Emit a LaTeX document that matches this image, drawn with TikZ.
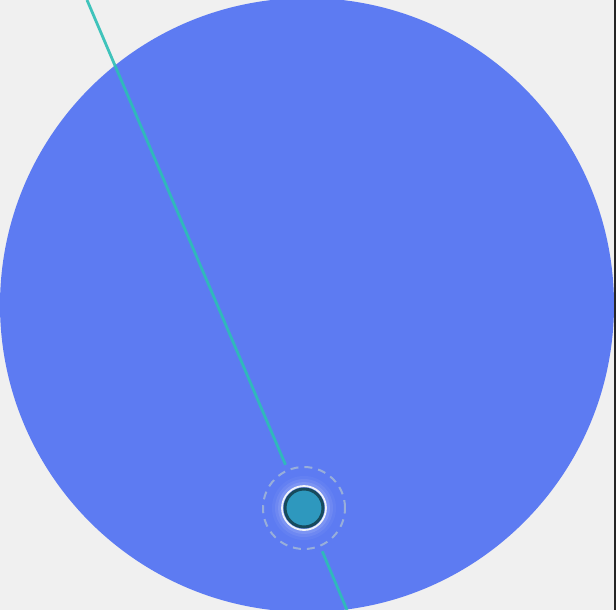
\documentclass[tikz,border=0pt]{standalone}
\usetikzlibrary{calc}
\definecolor{bg}{HTML}{F0F0F0}
\definecolor{disc}{HTML}{5D7BF2}
\definecolor{teal}{HTML}{2CBFB6}
\definecolor{nodefill}{HTML}{2E98BE}
\definecolor{nodeedge}{HTML}{174A5C}
\definecolor{ring}{HTML}{98AEDA}
\tikzset{
  edgeline/.style={draw=teal, line width=2.8pt, draw opacity=0.9},
  pin/.style={circle, fill=nodefill, draw=nodeedge, line width=3pt, minimum size=38pt, inner sep=0pt},
  halo/.style={circle, draw=white!85!ring, line width=1.8pt, minimum size=44pt, inner sep=0pt},
  dashring/.style={circle, draw=ring, line width=2pt, dash pattern=on 8pt off 6pt, minimum size=82pt, inner sep=0pt}
}
\begin{document}
\begin{tikzpicture}[x=1pt,y=-1pt]
\fill[bg] (0,0) rectangle (616,610);
\useasboundingbox (0,0) rectangle (616,610);
\fill[disc] (307,305) circle[radius=307];
\fill[black!85] (614,0) rectangle (616,610);
\coordinate (top) at (87,0);
\coordinate (bot) at (347,610);
\node[dashring] (ring) at (304,508) {};
\foreach \r/\o in {32/0.04,29/0.07,26/0.1} {\fill[white,opacity=\o] (304,508) circle[radius=\r];}
\node[halo] (halo) at (304,508) {};
\node[pin] (n) at (304,508) {};
\draw[edgeline] (top) -- ($(n.center)!47pt!(top)$);
\draw[edgeline] ($(n.center)!47pt!(bot)$) -- (bot);
\end{tikzpicture}
\end{document}
